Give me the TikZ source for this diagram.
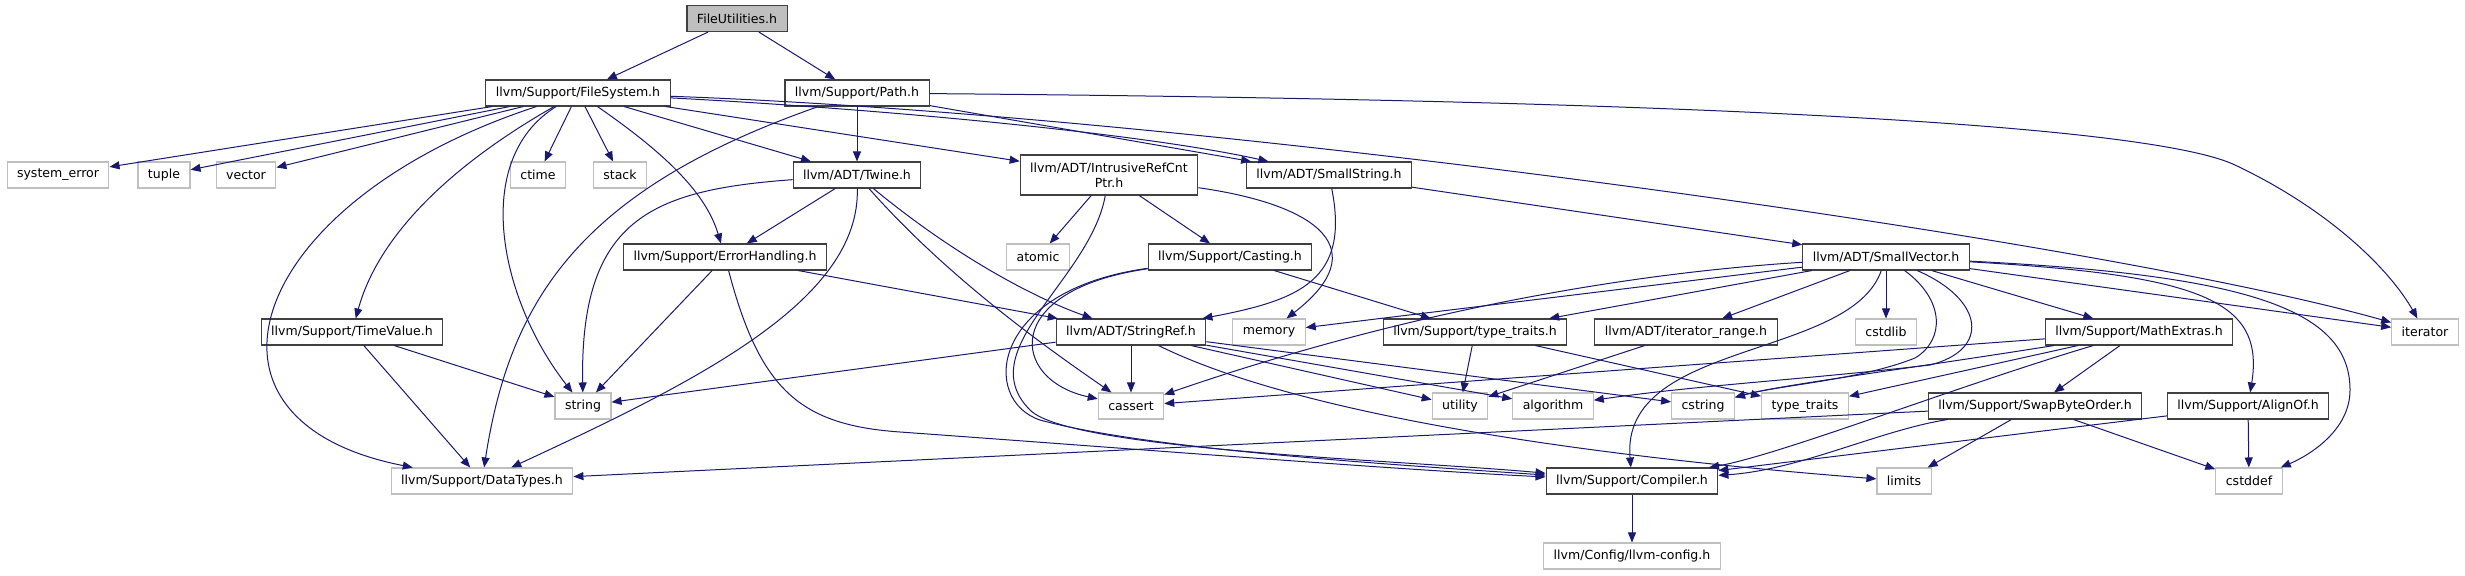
\documentclass[tikz,border=0pt]{standalone}
\usepackage{fontspec}
\setmainfont{DejaVu Sans}
\usepackage{tikz}
\usetikzlibrary{positioning, arrows.meta, calc}

\definecolor{kante}{HTML}{191970}
\definecolor{rahmen}{HTML}{404040}
\definecolor{grau}{HTML}{BFBFBF}

\tikzset{
  datei/.style={draw=rahmen, line width=0.8pt, fill=white,
    font=\fontsize{9.4}{11}\selectfont, inner xsep=7.5pt, inner ysep=0pt,
    minimum height=19.5pt, align=center},
  extern/.style={datei, draw=grau},
  wurzel/.style={datei, fill=grau},
  pfeil/.style={kante, line width=0.75pt, -{Triangle[length=7.5pt,width=6pt]}}
}

\begin{document}
\begin{tikzpicture}[x=0.75pt, y=-0.75pt]
  \useasboundingbox (0,0) rectangle (2465,575);

  % Knoten
  \node[wurzel] (root) at (737,18.5) {FileUtilities.h};
  \node[datei] (fs) at (578,93) {llvm/Support/FileSystem.h};
  \node[datei] (path) at (857,93) {llvm/Support/Path.h};

  \node[extern] (syserr) at (58,175) {system\_error};
  \node[extern] (tuple) at (164,175) {tuple};
  \node[extern] (vector) at (246,175) {vector};
  \node[extern] (ctime) at (538,175) {ctime};
  \node[extern] (stack) at (620,175) {stack};
  \node[datei] (twine) at (857,175) {llvm/ADT/Twine.h};
  \node[datei, minimum height=30pt] (irc) at (1109,175) {llvm/ADT/IntrusiveRefCnt\\Ptr.h};
  \node[datei] (sstr) at (1329,175) {llvm/ADT/SmallString.h};

  \node[datei] (errh) at (725,257) {llvm/Support/ErrorHandling.h};
  \node[extern] (atomic) at (1038,257) {atomic};
  \node[datei] (casting) at (1230,257) {llvm/Support/Casting.h};
  \node[datei] (svec) at (1886,257) {llvm/ADT/SmallVector.h};

  \node[datei] (tval) at (352,332) {llvm/Support/TimeValue.h};
  \node[datei] (sref) at (1131,332) {llvm/ADT/StringRef.h};
  \node[extern] (memory) at (1269,332) {memory};
  \node[datei] (ttraitsh) at (1475,332) {llvm/Support/type\_traits.h};
  \node[datei] (itrange) at (1686,332) {llvm/ADT/iterator\_range.h};
  \node[extern] (cstdlib) at (1886,332) {cstdlib};
  \node[datei] (mathx) at (2139,332) {llvm/Support/MathExtras.h};
  \node[extern] (iterator) at (2425,332) {iterator};

  \node[extern] (string) at (583,406) {string};
  \node[extern] (cassert) at (1131,406) {cassert};
  \node[extern] (utility) at (1460,406) {utility};
  \node[extern] (algorithm) at (1553,406) {algorithm};
  \node[extern] (cstring) at (1703,406) {cstring};
  \node[extern] (ttraits) at (1805,406) {type\_traits};
  \node[datei] (swap) at (2035,406) {llvm/Support/SwapByteOrder.h};
  \node[datei] (alignof) at (2248,406) {llvm/Support/AlignOf.h};

  \node[extern] (datatypes) at (482,481) {llvm/Support/DataTypes.h};
  \node[datei] (compiler) at (1632,481) {llvm/Support/Compiler.h};
  \node[extern] (limits) at (1904,481) {limits};
  \node[extern] (cstddef) at (2249,481) {cstddef};
  \node[extern] (config) at (1632,556) {llvm/Config/llvm-config.h};

  % Pfeile von FileUtilities.h
  \draw[pfeil] (root) -- (fs);
  \draw[pfeil] (root) -- (path);

  % Pfeile von FileSystem.h
  \draw[pfeil] (fs) -- (syserr);
  \draw[pfeil] (fs) -- (tuple);
  \draw[pfeil] (fs) -- (vector);
  \draw[pfeil] (fs) -- (ctime);
  \draw[pfeil] (fs) -- (stack);
  \draw[pfeil] (fs) .. controls (470,160) and (500,300) .. (string);
  \draw[pfeil] (fs) .. controls (250,200) and (170,420) .. (datatypes);
  \draw[pfeil] (fs) .. controls (460,160) and (380,230) .. (tval);
  \draw[pfeil] (fs) .. controls (660,150) and (705,190) .. (errh);
  \draw[pfeil] (fs) -- (twine);
  \draw[pfeil] (fs) -- (irc);
  \draw[pfeil] (fs) .. controls (900,110) and (1150,135) .. (sstr);
  \draw[pfeil] (fs) .. controls (1200,115) and (2100,240) .. (iterator);

  % Pfeile von Path.h
  \draw[pfeil] (path) .. controls (580,190) and (510,300) .. (datatypes);
  \draw[pfeil] (path) -- (twine);
  \draw[pfeil] (path) -- (sstr);
  \draw[pfeil] (path) .. controls (1700,100) and (2150,125) .. (2235,165)
    .. controls (2330,210) and (2390,270) .. (iterator);

  % Pfeile von Twine.h
  \draw[pfeil] (twine) -- (errh);
  \draw[pfeil] (twine) .. controls (650,190) and (580,220) .. (string);
  \draw[pfeil] (twine) .. controls (860,300) and (700,380) .. (datatypes);
  \draw[pfeil] (twine) .. controls (960,260) and (1040,300) .. (sref);
  \draw[pfeil] (twine) .. controls (950,280) and (1050,350) .. (cassert);

  % Pfeile von IntrusiveRefCntPtr.h
  \draw[pfeil] (irc) -- (atomic);
  \draw[pfeil] (irc) -- (casting);
  \draw[pfeil] (irc) .. controls (1320,205) and (1375,250) .. (memory);
  \draw[pfeil] (irc) .. controls (1090,280) and (970,350) .. (1030,410)
    .. controls (1070,450) and (1400,460) .. (compiler);

  % Pfeile von ErrorHandling.h und TimeValue.h
  \draw[pfeil] (errh) -- (string);
  \draw[pfeil] (errh) -- (sref);
  \draw[pfeil] (errh) .. controls (760,390) and (800,425) .. (900,432)
    .. controls (1150,450) and (1400,470) .. (compiler);
  \draw[pfeil] (tval) -- (string);
  \draw[pfeil] (tval) -- (datatypes);

  % Pfeile von Casting.h
  \draw[pfeil] (casting) -- (ttraitsh);
  \draw[pfeil] (casting) .. controls (1000,290) and (1010,380) .. (cassert);
  \draw[pfeil] (casting) .. controls (990,290) and (980,400) .. (1040,420)
    .. controls (1150,450) and (1400,465) .. (compiler);

  % Pfeile von SmallString.h
  \draw[pfeil] (sstr) -- (svec);
  \draw[pfeil] (sstr) .. controls (1350,280) and (1300,300) .. (sref);

  % Pfeile von StringRef.h
  \draw[pfeil] (sref) -- (string);
  \draw[pfeil] (sref) -- (cassert);
  \draw[pfeil] (sref) -- (utility);
  \draw[pfeil] (sref) -- (algorithm);
  \draw[pfeil] (sref) -- (cstring);
  \draw[pfeil] (sref) .. controls (1330,430) and (1700,465) .. (limits);

  % Pfeile von SmallVector.h
  \draw[pfeil] (svec) -- (memory);
  \draw[pfeil] (svec) .. controls (1600,275) and (1380,320) .. (cassert);
  \draw[pfeil] (svec) -- (ttraitsh);
  \draw[pfeil] (svec) -- (itrange);
  \draw[pfeil] (svec) -- (cstdlib);
  \draw[pfeil] (svec) .. controls (1850,360) and (1620,340) .. (compiler);
  \draw[pfeil] (svec) .. controls (1945,300) and (1945,340) .. (1915,358)
    .. controls (1860,380) and (1780,385) .. (cstring);
  \draw[pfeil] (svec) .. controls (1985,300) and (1990,350) .. (1930,365)
    .. controls (1800,380) and (1700,385) .. (algorithm);
  \draw[pfeil] (svec) -- (mathx);
  \draw[pfeil] (svec) .. controls (2200,275) and (2265,300) .. (alignof);
  \draw[pfeil] (svec) .. controls (2250,275) and (2350,310) .. (2350,390)
    .. controls (2350,430) and (2310,455) .. (cstddef);
  \draw[pfeil] (svec) -- (iterator);

  % Pfeile von type_traits.h und iterator_range.h
  \draw[pfeil] (ttraitsh) -- (utility);
  \draw[pfeil] (ttraitsh) -- (ttraits);
  \draw[pfeil] (itrange) -- (utility);

  % Pfeile von MathExtras.h
  \draw[pfeil] (mathx) -- (swap);
  \draw[pfeil] (mathx) -- (cassert);
  \draw[pfeil] (mathx) .. controls (1900,370) and (1780,385) .. (cstring);
  \draw[pfeil] (mathx) -- (ttraits);
  \draw[pfeil] (mathx) .. controls (1960,385) and (1780,455) .. (compiler);

  % Pfeile von SwapByteOrder.h und AlignOf.h
  \draw[pfeil] (swap) .. controls (1880,430) and (1800,470) .. (compiler);
  \draw[pfeil] (swap) -- (datatypes);
  \draw[pfeil] (swap) -- (limits);
  \draw[pfeil] (swap) -- (cstddef);
  \draw[pfeil] (alignof) -- (compiler);
  \draw[pfeil] (alignof) -- (cstddef);

  % Pfeil von Compiler.h
  \draw[pfeil] (compiler) -- (config);
\end{tikzpicture}
\end{document}
